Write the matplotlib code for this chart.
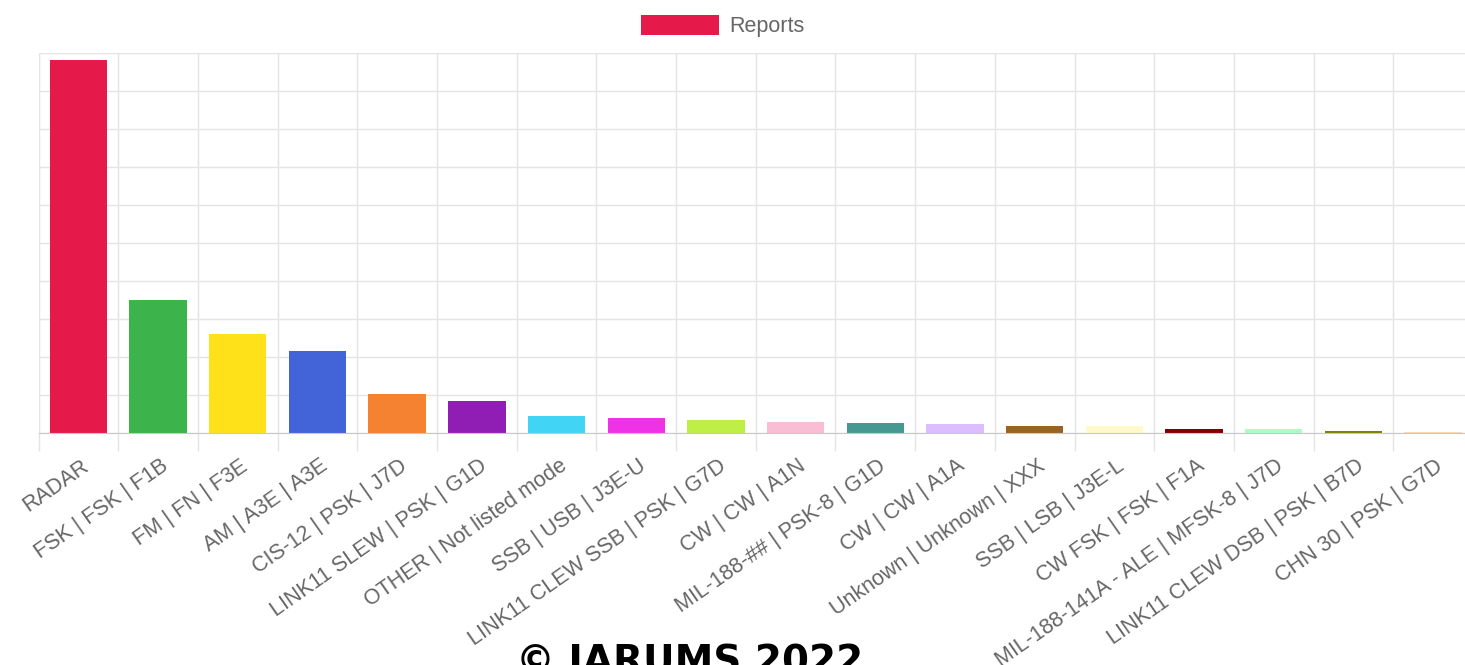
import numpy as np
import matplotlib
matplotlib.use("Agg")
import matplotlib.pyplot as plt
import matplotlib.transforms as mtransforms

# -------------------------
# Data
# -------------------------
modes = [
    "RADAR", "FSK | FSK | F1B", "FM | FN | F3E", "AM | A3E | A3E",
    "CIS-12 | PSK | J7D", "LINK11 SLEW | PSK | G1D", "OTHER | Not listed mode",
    "SSB | USB | J3E-U", "LINK11 CLEW SSB | PSK | G7D", "CW | CW | A1N",
    "MIL-188-## | PSK-8 | G1D", "CW | CW | A1A", "Unknown | Unknown | XXX",
    "SSB | LSB | J3E-L", "CW FSK | FSK | F1A", "MIL-188-141A - ALE | MFSK-8 | J7D",
    "LINK11 CLEW DSB | PSK | B7D", "CHN 30 | PSK | G7D",
]
reports = [491, 175, 130, 108, 52, 42, 23, 20, 17, 15, 13, 12, 10, 10, 5, 5, 3, 2]
bar_colors = [
    "#e6194b", "#3cb44b", "#ffe119", "#4363d8", "#f58231", "#911eb4",
    "#42d4f4", "#f032e6", "#bfef45", "#fabed4", "#469990", "#dcbeff",
    "#9a6324", "#fffac8", "#800000", "#aaffc3", "#808000", "#ffd8b1",
]
y_ticks = np.arange(0, 501, 50)

plt.rcParams['font.family'] = ['Liberation Sans', 'DejaVu Sans']

fig = plt.figure(figsize=(14.65, 6.65), dpi=100)
# plot area runs past the right edge, like the cropped original
ax = fig.add_axes([38.5 / 1465, 231.7 / 665, 1434.5 / 1465, 380.3 / 665])

x = np.arange(len(modes))
ax.bar(x, reports, width=0.72, color=bar_colors, label="Reports", zorder=3)

ax.set_xlim(-0.5, len(modes) - 0.5)
ax.set_ylim(0, 500)

# horizontal grid
ax.set_yticks(y_ticks)
ax.set_yticklabels([])
ax.tick_params(axis='y', length=0)
ax.yaxis.grid(True, color='#e4e4e4', linewidth=1, zorder=0)

# vertical grid between categories, with tick marks below the axis
ax.set_xticks(np.arange(-0.5, len(modes), 1), minor=True)
ax.xaxis.grid(True, which='minor', color='#e4e4e4', linewidth=1, zorder=0)
ax.tick_params(axis='x', which='minor', length=13, color='#e4e4e4', width=1)
ax.set_xticks(x)
ax.set_xticklabels(modes, rotation=35, ha='right', va='top',
                   rotation_mode='anchor', fontsize=15.5, color='#666666')
ax.tick_params(axis='x', which='major', length=0, pad=16)
shift = mtransforms.ScaledTranslation(0.02, 0, fig.dpi_scale_trans)
for lbl in ax.get_xticklabels():
    lbl.set_transform(lbl.get_transform() + shift)

for s in ['top', 'right']:
    ax.spines[s].set_visible(False)
ax.spines['left'].set_color('#e4e4e4')
ax.spines['bottom'].set_color('#c8c8c8')
ax.spines['bottom'].set_zorder(4)

leg = fig.legend(loc='center', bbox_to_anchor=(0.4935, 0.9602), frameon=False,
                 fontsize=15.5, handlelength=3.6, handleheight=1.0,
                 handletextpad=0.5, borderpad=0, labelcolor='#666666')

# watermark, cut by the bottom edge as in the original
fig.text(690 / 1465, -9 / 665, "\u00a9 IARUMS 2022", ha='center', va='baseline',
         fontsize=28, fontweight='bold', family='DejaVu Sans', color='black')

fig.savefig("out.png", dpi=100)
